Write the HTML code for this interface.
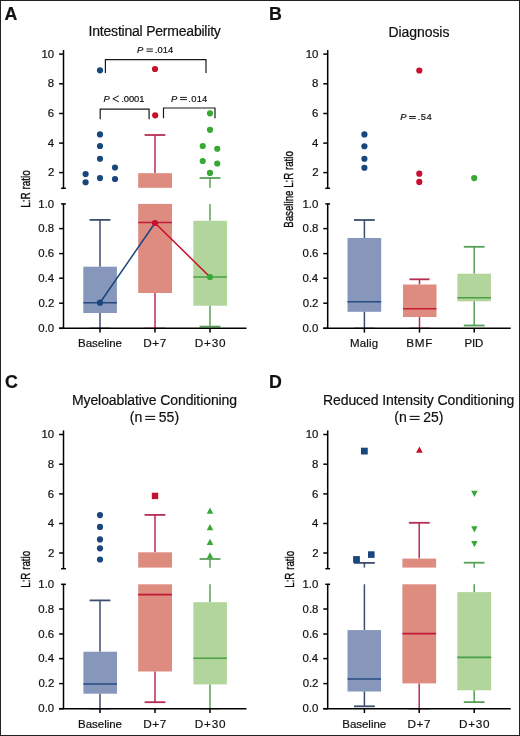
<!DOCTYPE html>
<html><head><meta charset="utf-8"><style>
html,body{margin:0;padding:0;background:#fff;}
body{width:520px;height:736px;overflow:hidden;font-family:"Liberation Sans", sans-serif;}
svg{display:block;will-change:transform;}
text{stroke:#111;stroke-width:0.2px;}
</style></head><body>
<svg width="520" height="736" viewBox="0 0 520 736" font-family='"Liberation Sans", sans-serif' fill="#111" style="font-kerning:none">
<rect x="0" y="0" width="520" height="736" fill="#fff"/>
<line x1="100" y1="219.9" x2="100" y2="266.7" stroke="#3d4e6e" stroke-width="1.5"/>
<line x1="89.6" y1="219.9" x2="110.4" y2="219.9" stroke="#3d4e6e" stroke-width="1.8"/>
<rect x="83.3" y="266.7" width="33.6" height="46.3" fill="#8797bb"/>
<line x1="100" y1="313" x2="100" y2="328.3" stroke="#3d4e6e" stroke-width="1.5"/>
<line x1="89.6" y1="328.3" x2="110.4" y2="328.3" stroke="#3d4e6e" stroke-width="1.3"/>
<line x1="83.3" y1="302.7" x2="116.9" y2="302.7" stroke="#254a80" stroke-width="1.6"/>
<circle cx="100" cy="70.3" r="3.1" fill="#1a467f"/>
<circle cx="100" cy="134.4" r="3.1" fill="#1a467f"/>
<circle cx="100" cy="146" r="3.1" fill="#1a467f"/>
<circle cx="100" cy="158.75" r="3.1" fill="#1a467f"/>
<circle cx="115" cy="167.5" r="3.1" fill="#1a467f"/>
<circle cx="85.6" cy="174.1" r="3.1" fill="#1a467f"/>
<circle cx="85.6" cy="182.25" r="3.1" fill="#1a467f"/>
<circle cx="100" cy="178.1" r="3.1" fill="#1a467f"/>
<circle cx="115" cy="179" r="3.1" fill="#1a467f"/>
<line x1="155" y1="135" x2="155" y2="173.2" stroke="#b82c52" stroke-width="1.5"/>
<line x1="144.6" y1="135" x2="165.4" y2="135" stroke="#b82c52" stroke-width="1.8"/>
<rect x="138.2" y="173.2" width="33.8" height="14.6" fill="#de8b80"/>
<rect x="138.2" y="203.9" width="33.8" height="89.1" fill="#de8b80"/>
<line x1="155" y1="293" x2="155" y2="328.3" stroke="#b82c52" stroke-width="1.5"/>
<line x1="144.6" y1="328.3" x2="165.4" y2="328.3" stroke="#b82c52" stroke-width="1.3"/>
<line x1="138.2" y1="222.5" x2="172" y2="222.5" stroke="#c21a35" stroke-width="1.6"/>
<circle cx="155" cy="69" r="3.1" fill="#c8102e"/>
<circle cx="155.2" cy="115.3" r="3.1" fill="#c8102e"/>
<line x1="210" y1="178" x2="210" y2="187.8" stroke="#58a058" stroke-width="1.5"/>
<line x1="199.6" y1="178" x2="220.4" y2="178" stroke="#58a058" stroke-width="1.8"/>
<line x1="210" y1="203.9" x2="210" y2="220.8" stroke="#58a058" stroke-width="1.5"/>
<rect x="193.3" y="220.8" width="33.7" height="84.9" fill="#b1d59a"/>
<line x1="210" y1="305.7" x2="210" y2="326.6" stroke="#58a058" stroke-width="1.5"/>
<line x1="199.6" y1="326.6" x2="220.4" y2="326.6" stroke="#58a058" stroke-width="1.8"/>
<line x1="193.3" y1="277" x2="227" y2="277" stroke="#4aa048" stroke-width="1.6"/>
<circle cx="210" cy="113.3" r="3.1" fill="#39a935"/>
<circle cx="210" cy="129.8" r="3.1" fill="#39a935"/>
<circle cx="202.75" cy="146" r="3.1" fill="#39a935"/>
<circle cx="217.25" cy="148.75" r="3.1" fill="#39a935"/>
<circle cx="202.75" cy="161" r="3.1" fill="#39a935"/>
<circle cx="217.25" cy="163.5" r="3.1" fill="#39a935"/>
<circle cx="210" cy="172.9" r="3.1" fill="#39a935"/>
<line x1="100" y1="302.7" x2="155" y2="223" stroke="#1a467f" stroke-width="1.5"/>
<line x1="155" y1="223" x2="210" y2="277" stroke="#c8102e" stroke-width="1.5"/>
<circle cx="100" cy="302.7" r="3.1" fill="#1a467f"/>
<circle cx="155" cy="223" r="3.1" fill="#c8102e"/>
<circle cx="210" cy="277" r="3.1" fill="#39a935"/>
<polyline points="105.4,73.1 105.4,59.6 206,59.6 206,73.1" fill="none" stroke="#1a1a1a" stroke-width="1.2"/>
<polyline points="100.2,119.2 100.2,109.1 149.1,109.1 149.1,119.2" fill="none" stroke="#1a1a1a" stroke-width="1.2"/>
<polyline points="163.5,118.3 163.5,108 215,108 215,118.3" fill="none" stroke="#1a1a1a" stroke-width="1.2"/>
<text x="137.11" y="52.5" font-size="9.4" font-style="italic" >P</text>
<line x1="146.5" y1="49" x2="152.9" y2="49" stroke="#111" stroke-width="0.95"/>
<line x1="146.5" y1="51.3" x2="152.9" y2="51.3" stroke="#111" stroke-width="0.95"/>
<text x="154.84" y="52.5" font-size="9.4" letter-spacing="0.080" >.014</text>
<text x="103.51" y="102.1" font-size="9.4" font-style="italic" >P</text>
<polyline points="118.8,95.8 112.8,98.8 118.8,101.8" fill="none" stroke="#111" stroke-width="0.95" stroke-linejoin="miter"/>
<text x="121.34" y="102.1" font-size="9.4" letter-spacing="-0.101" >.0001</text>
<text x="171.11" y="101.5" font-size="9.4" font-style="italic" >P</text>
<line x1="180.1" y1="97.4" x2="186.9" y2="97.4" stroke="#111" stroke-width="0.95"/>
<line x1="180.1" y1="99.6" x2="186.9" y2="99.6" stroke="#111" stroke-width="0.95"/>
<text x="188.34" y="101.5" font-size="9.4" letter-spacing="0.246" >.014</text>
<line x1="364.4" y1="220" x2="364.4" y2="238" stroke="#3d4e6e" stroke-width="1.5"/>
<line x1="354" y1="220" x2="374.8" y2="220" stroke="#3d4e6e" stroke-width="1.8"/>
<rect x="347.5" y="238" width="33.7" height="73.8" fill="#8797bb"/>
<line x1="364.4" y1="311.8" x2="364.4" y2="328.3" stroke="#3d4e6e" stroke-width="1.5"/>
<line x1="354" y1="328.3" x2="374.8" y2="328.3" stroke="#3d4e6e" stroke-width="1.3"/>
<line x1="347.5" y1="301.8" x2="381.2" y2="301.8" stroke="#254a80" stroke-width="1.6"/>
<circle cx="364.4" cy="134.4" r="3.1" fill="#1a467f"/>
<circle cx="364.4" cy="146.25" r="3.1" fill="#1a467f"/>
<circle cx="364.4" cy="158.75" r="3.1" fill="#1a467f"/>
<circle cx="364.4" cy="167.75" r="3.1" fill="#1a467f"/>
<line x1="419.5" y1="279.3" x2="419.5" y2="284.5" stroke="#b82c52" stroke-width="1.5"/>
<line x1="409.5" y1="279.3" x2="429.5" y2="279.3" stroke="#b82c52" stroke-width="1.8"/>
<rect x="403" y="284.5" width="33.5" height="32.5" fill="#de8b80"/>
<line x1="419.5" y1="317" x2="419.5" y2="328.3" stroke="#b82c52" stroke-width="1.5"/>
<line x1="409.1" y1="328.3" x2="429.9" y2="328.3" stroke="#b82c52" stroke-width="1.3"/>
<line x1="403" y1="308.8" x2="436.5" y2="308.8" stroke="#c21a35" stroke-width="1.6"/>
<circle cx="419.3" cy="70.5" r="3.1" fill="#c8102e"/>
<circle cx="419.3" cy="173.7" r="3.1" fill="#c8102e"/>
<circle cx="419.3" cy="181.9" r="3.1" fill="#c8102e"/>
<line x1="474.2" y1="246.8" x2="474.2" y2="273.7" stroke="#58a058" stroke-width="1.5"/>
<line x1="463.8" y1="246.8" x2="484.6" y2="246.8" stroke="#58a058" stroke-width="1.8"/>
<rect x="457.4" y="273.7" width="33.5" height="27.6" fill="#b1d59a"/>
<line x1="474.2" y1="301.3" x2="474.2" y2="325.5" stroke="#58a058" stroke-width="1.5"/>
<line x1="463.8" y1="325.5" x2="484.6" y2="325.5" stroke="#58a058" stroke-width="1.8"/>
<line x1="457.4" y1="297.8" x2="490.9" y2="297.8" stroke="#4aa048" stroke-width="1.6"/>
<circle cx="474.2" cy="178.1" r="3.1" fill="#39a935"/>
<text x="400.31" y="120" font-size="9.4" font-style="italic" >P</text>
<line x1="409.1" y1="116.5" x2="415.8" y2="116.5" stroke="#111" stroke-width="0.95"/>
<line x1="409.1" y1="118.4" x2="415.8" y2="118.4" stroke="#111" stroke-width="0.95"/>
<text x="417.84" y="120" font-size="9.4" letter-spacing="0.383" >.54</text>
<line x1="100" y1="600.4" x2="100" y2="651.7" stroke="#3d4e6e" stroke-width="1.5"/>
<line x1="89.6" y1="600.4" x2="110.4" y2="600.4" stroke="#3d4e6e" stroke-width="1.8"/>
<rect x="83.4" y="651.7" width="33.6" height="42" fill="#8797bb"/>
<line x1="100" y1="693.7" x2="100" y2="708.7" stroke="#3d4e6e" stroke-width="1.5"/>
<line x1="89.6" y1="708.7" x2="110.4" y2="708.7" stroke="#3d4e6e" stroke-width="1.3"/>
<line x1="83.4" y1="684" x2="117" y2="684" stroke="#254a80" stroke-width="1.6"/>
<circle cx="100" cy="515.05" r="3.1" fill="#1a467f"/>
<circle cx="100" cy="526.9" r="3.1" fill="#1a467f"/>
<circle cx="100" cy="539.4" r="3.1" fill="#1a467f"/>
<circle cx="100" cy="548.3" r="3.1" fill="#1a467f"/>
<circle cx="100" cy="559.5" r="3.1" fill="#1a467f"/>
<line x1="155" y1="514.9" x2="155" y2="552.3" stroke="#b82c52" stroke-width="1.5"/>
<line x1="144.6" y1="514.9" x2="165.4" y2="514.9" stroke="#b82c52" stroke-width="1.8"/>
<rect x="138.2" y="552.3" width="33.8" height="15.3" fill="#de8b80"/>
<rect x="138.2" y="584.3" width="33.8" height="87.2" fill="#de8b80"/>
<line x1="155" y1="671.5" x2="155" y2="702.2" stroke="#b82c52" stroke-width="1.5"/>
<line x1="144.6" y1="702.2" x2="165.4" y2="702.2" stroke="#b82c52" stroke-width="1.8"/>
<line x1="138.2" y1="594.6" x2="172" y2="594.6" stroke="#c21a35" stroke-width="1.6"/>
<rect x="151.8" y="492.7" width="6.4" height="6.4" fill="#c8102e"/>
<polygon points="210,507.55 213.3,513.85 206.7,513.85" fill="#39a935"/>
<polygon points="210,524.05 213.3,530.35 206.7,530.35" fill="#39a935"/>
<polygon points="210,538.75 213.3,545.05 206.7,545.05" fill="#39a935"/>
<polygon points="210,552.25 213.3,558.55 206.7,558.55" fill="#39a935"/>
<line x1="210" y1="559" x2="210" y2="567.8" stroke="#58a058" stroke-width="1.5"/>
<line x1="199.6" y1="559" x2="220.4" y2="559" stroke="#58a058" stroke-width="1.8"/>
<line x1="210" y1="584.3" x2="210" y2="602.2" stroke="#58a058" stroke-width="1.5"/>
<rect x="193.4" y="602.2" width="33.5" height="82.2" fill="#b1d59a"/>
<line x1="210" y1="684.4" x2="210" y2="708.7" stroke="#58a058" stroke-width="1.5"/>
<line x1="199.6" y1="708.7" x2="220.4" y2="708.7" stroke="#58a058" stroke-width="1.3"/>
<line x1="193.4" y1="658.2" x2="226.9" y2="658.2" stroke="#4aa048" stroke-width="1.6"/>
<line x1="364.4" y1="562.9" x2="364.4" y2="567.6" stroke="#3d4e6e" stroke-width="1.5"/>
<line x1="354" y1="562.9" x2="374.8" y2="562.9" stroke="#3d4e6e" stroke-width="1.8"/>
<line x1="364.4" y1="584.3" x2="364.4" y2="630.1" stroke="#3d4e6e" stroke-width="1.5"/>
<rect x="347.5" y="630.1" width="33.5" height="61.4" fill="#8797bb"/>
<line x1="364.4" y1="691.5" x2="364.4" y2="706.3" stroke="#3d4e6e" stroke-width="1.5"/>
<line x1="354" y1="706.3" x2="374.8" y2="706.3" stroke="#3d4e6e" stroke-width="1.8"/>
<line x1="347.5" y1="679" x2="381" y2="679" stroke="#254a80" stroke-width="1.6"/>
<rect x="360.95" y="447.7" width="6.8" height="6.8" fill="#1a467f"/>
<rect x="353.1" y="556.1" width="6.8" height="6.8" fill="#1a467f"/>
<rect x="368" y="551.3" width="6.6" height="6.6" fill="#1a467f"/>
<line x1="419.2" y1="522.8" x2="419.2" y2="558.6" stroke="#b82c52" stroke-width="1.5"/>
<line x1="408.8" y1="522.8" x2="429.6" y2="522.8" stroke="#b82c52" stroke-width="1.8"/>
<rect x="402.4" y="558.6" width="33.7" height="9" fill="#de8b80"/>
<rect x="402.4" y="584.3" width="33.7" height="99.1" fill="#de8b80"/>
<line x1="419.2" y1="683.4" x2="419.2" y2="708.7" stroke="#b82c52" stroke-width="1.5"/>
<line x1="408.8" y1="708.7" x2="429.6" y2="708.7" stroke="#b82c52" stroke-width="1.3"/>
<line x1="402.4" y1="633.6" x2="436.1" y2="633.6" stroke="#c21a35" stroke-width="1.6"/>
<polygon points="419.4,446.5 422.75,452.7 416.05,452.7" fill="#c8102e"/>
<polygon points="474.4,496.95 477.6,490.65 471.2,490.65" fill="#39a935"/>
<polygon points="474.4,532.5 477.6,526.2 471.2,526.2" fill="#39a935"/>
<polygon points="474.4,547.3 477.6,541 471.2,541" fill="#39a935"/>
<line x1="474.2" y1="562.7" x2="474.2" y2="567.8" stroke="#58a058" stroke-width="1.5"/>
<line x1="463.8" y1="562.7" x2="484.6" y2="562.7" stroke="#58a058" stroke-width="1.8"/>
<line x1="474.2" y1="584.3" x2="474.2" y2="592.1" stroke="#58a058" stroke-width="1.5"/>
<rect x="457.3" y="592.1" width="33.9" height="98.2" fill="#b1d59a"/>
<line x1="474.2" y1="690.3" x2="474.2" y2="702.1" stroke="#58a058" stroke-width="1.5"/>
<line x1="463.8" y1="702.1" x2="484.6" y2="702.1" stroke="#58a058" stroke-width="1.8"/>
<line x1="457.3" y1="657.4" x2="491.2" y2="657.4" stroke="#4aa048" stroke-width="1.6"/>
<line x1="63.5" y1="50" x2="63.5" y2="188.3" stroke="#000" stroke-width="1.5"/>
<line x1="61.1" y1="188.3" x2="65.9" y2="188.3" stroke="#000" stroke-width="1.5"/>
<line x1="59.1" y1="54.1" x2="63.5" y2="54.1" stroke="#000" stroke-width="1.5"/>
<text x="41.47" y="57.75" font-size="11.4" >10</text>
<line x1="59.1" y1="83.8" x2="63.5" y2="83.8" stroke="#000" stroke-width="1.5"/>
<text x="47.86" y="87.45" font-size="11.4" >8</text>
<line x1="59.1" y1="113.5" x2="63.5" y2="113.5" stroke="#000" stroke-width="1.5"/>
<text x="47.86" y="117.15" font-size="11.4" >6</text>
<line x1="59.1" y1="143.1" x2="63.5" y2="143.1" stroke="#000" stroke-width="1.5"/>
<text x="47.69" y="146.75" font-size="11.4" >4</text>
<line x1="59.1" y1="172.6" x2="63.5" y2="172.6" stroke="#000" stroke-width="1.5"/>
<text x="47.93" y="176.25" font-size="11.4" >2</text>
<line x1="63.5" y1="203.9" x2="63.5" y2="328.3" stroke="#000" stroke-width="1.5"/>
<line x1="61.1" y1="203.9" x2="65.9" y2="203.9" stroke="#000" stroke-width="1.5"/>
<text x="38.3" y="207.55" font-size="11.4" >1.0</text>
<line x1="59.1" y1="228.6" x2="63.5" y2="228.6" stroke="#000" stroke-width="1.5"/>
<text x="38.35" y="232.25" font-size="11.4" >0.8</text>
<line x1="59.1" y1="253.6" x2="63.5" y2="253.6" stroke="#000" stroke-width="1.5"/>
<text x="38.35" y="257.25" font-size="11.4" >0.6</text>
<line x1="59.1" y1="278.2" x2="63.5" y2="278.2" stroke="#000" stroke-width="1.5"/>
<text x="38.19" y="281.85" font-size="11.4" >0.4</text>
<line x1="59.1" y1="303.2" x2="63.5" y2="303.2" stroke="#000" stroke-width="1.5"/>
<text x="38.43" y="306.85" font-size="11.4" >0.2</text>
<line x1="59.1" y1="328.3" x2="63.5" y2="328.3" stroke="#000" stroke-width="1.5"/>
<text x="38.3" y="331.95" font-size="11.4" >0.0</text>
<line x1="59.1" y1="328.3" x2="246.5" y2="328.3" stroke="#000" stroke-width="1.5"/>
<line x1="100" y1="328.3" x2="100" y2="332.6" stroke="#000" stroke-width="1.5"/>
<text x="78.06" y="347.3" font-size="11.5" letter-spacing="-0.023" >Baseline</text>
<line x1="155" y1="328.3" x2="155" y2="332.6" stroke="#000" stroke-width="1.5"/>
<text x="143.24" y="347.3" font-size="11.75" letter-spacing="0.636" >D+7</text>
<line x1="210" y1="328.3" x2="210" y2="332.6" stroke="#000" stroke-width="1.5"/>
<text x="194.84" y="347.3" font-size="11.75" letter-spacing="0.735" >D+30</text>
<line x1="327.7" y1="50" x2="327.7" y2="188.3" stroke="#000" stroke-width="1.5"/>
<line x1="325.3" y1="188.3" x2="330.1" y2="188.3" stroke="#000" stroke-width="1.5"/>
<line x1="323.3" y1="54.1" x2="327.7" y2="54.1" stroke="#000" stroke-width="1.5"/>
<text x="305.67" y="57.75" font-size="11.4" >10</text>
<line x1="323.3" y1="83.8" x2="327.7" y2="83.8" stroke="#000" stroke-width="1.5"/>
<text x="312.06" y="87.45" font-size="11.4" >8</text>
<line x1="323.3" y1="113.5" x2="327.7" y2="113.5" stroke="#000" stroke-width="1.5"/>
<text x="312.06" y="117.15" font-size="11.4" >6</text>
<line x1="323.3" y1="143.1" x2="327.7" y2="143.1" stroke="#000" stroke-width="1.5"/>
<text x="311.89" y="146.75" font-size="11.4" >4</text>
<line x1="323.3" y1="172.6" x2="327.7" y2="172.6" stroke="#000" stroke-width="1.5"/>
<text x="312.13" y="176.25" font-size="11.4" >2</text>
<line x1="327.7" y1="203.9" x2="327.7" y2="328.3" stroke="#000" stroke-width="1.5"/>
<line x1="325.3" y1="203.9" x2="330.1" y2="203.9" stroke="#000" stroke-width="1.5"/>
<text x="302.5" y="207.55" font-size="11.4" >1.0</text>
<line x1="323.3" y1="228.6" x2="327.7" y2="228.6" stroke="#000" stroke-width="1.5"/>
<text x="302.55" y="232.25" font-size="11.4" >0.8</text>
<line x1="323.3" y1="253.6" x2="327.7" y2="253.6" stroke="#000" stroke-width="1.5"/>
<text x="302.55" y="257.25" font-size="11.4" >0.6</text>
<line x1="323.3" y1="278.2" x2="327.7" y2="278.2" stroke="#000" stroke-width="1.5"/>
<text x="302.39" y="281.85" font-size="11.4" >0.4</text>
<line x1="323.3" y1="303.2" x2="327.7" y2="303.2" stroke="#000" stroke-width="1.5"/>
<text x="302.63" y="306.85" font-size="11.4" >0.2</text>
<line x1="323.3" y1="328.3" x2="327.7" y2="328.3" stroke="#000" stroke-width="1.5"/>
<text x="302.5" y="331.95" font-size="11.4" >0.0</text>
<line x1="323.3" y1="328.3" x2="510.7" y2="328.3" stroke="#000" stroke-width="1.5"/>
<line x1="364.4" y1="328.3" x2="364.4" y2="332.6" stroke="#000" stroke-width="1.5"/>
<text x="350.06" y="347.3" font-size="11.5" letter-spacing="0.176" >Malig</text>
<line x1="419.5" y1="328.3" x2="419.5" y2="332.6" stroke="#000" stroke-width="1.5"/>
<text x="406.34" y="347.3" font-size="11.75" letter-spacing="0.666" >BMF</text>
<line x1="474.2" y1="328.3" x2="474.2" y2="332.6" stroke="#000" stroke-width="1.5"/>
<text x="464.46" y="347.3" font-size="11.5" letter-spacing="-0.188" >PID</text>
<line x1="63.5" y1="430.4" x2="63.5" y2="568.7" stroke="#000" stroke-width="1.5"/>
<line x1="61.1" y1="568.7" x2="65.9" y2="568.7" stroke="#000" stroke-width="1.5"/>
<line x1="59.1" y1="434.5" x2="63.5" y2="434.5" stroke="#000" stroke-width="1.5"/>
<text x="41.47" y="438.15" font-size="11.4" >10</text>
<line x1="59.1" y1="464.2" x2="63.5" y2="464.2" stroke="#000" stroke-width="1.5"/>
<text x="47.86" y="467.85" font-size="11.4" >8</text>
<line x1="59.1" y1="493.9" x2="63.5" y2="493.9" stroke="#000" stroke-width="1.5"/>
<text x="47.86" y="497.55" font-size="11.4" >6</text>
<line x1="59.1" y1="523.5" x2="63.5" y2="523.5" stroke="#000" stroke-width="1.5"/>
<text x="47.69" y="527.15" font-size="11.4" >4</text>
<line x1="59.1" y1="553" x2="63.5" y2="553" stroke="#000" stroke-width="1.5"/>
<text x="47.93" y="556.65" font-size="11.4" >2</text>
<line x1="63.5" y1="584.3" x2="63.5" y2="708.7" stroke="#000" stroke-width="1.5"/>
<line x1="61.1" y1="584.3" x2="65.9" y2="584.3" stroke="#000" stroke-width="1.5"/>
<text x="38.3" y="587.95" font-size="11.4" >1.0</text>
<line x1="59.1" y1="609" x2="63.5" y2="609" stroke="#000" stroke-width="1.5"/>
<text x="38.35" y="612.65" font-size="11.4" >0.8</text>
<line x1="59.1" y1="634" x2="63.5" y2="634" stroke="#000" stroke-width="1.5"/>
<text x="38.35" y="637.65" font-size="11.4" >0.6</text>
<line x1="59.1" y1="658.6" x2="63.5" y2="658.6" stroke="#000" stroke-width="1.5"/>
<text x="38.19" y="662.25" font-size="11.4" >0.4</text>
<line x1="59.1" y1="683.6" x2="63.5" y2="683.6" stroke="#000" stroke-width="1.5"/>
<text x="38.43" y="687.25" font-size="11.4" >0.2</text>
<line x1="59.1" y1="708.7" x2="63.5" y2="708.7" stroke="#000" stroke-width="1.5"/>
<text x="38.3" y="712.35" font-size="11.4" >0.0</text>
<line x1="59.1" y1="708.7" x2="246.5" y2="708.7" stroke="#000" stroke-width="1.5"/>
<line x1="100" y1="708.7" x2="100" y2="713" stroke="#000" stroke-width="1.5"/>
<text x="78.06" y="727.7" font-size="11.5" letter-spacing="-0.023" >Baseline</text>
<line x1="155" y1="708.7" x2="155" y2="713" stroke="#000" stroke-width="1.5"/>
<text x="143.24" y="727.7" font-size="11.75" letter-spacing="0.636" >D+7</text>
<line x1="210" y1="708.7" x2="210" y2="713" stroke="#000" stroke-width="1.5"/>
<text x="194.84" y="727.7" font-size="11.75" letter-spacing="0.735" >D+30</text>
<line x1="327.7" y1="430.4" x2="327.7" y2="568.7" stroke="#000" stroke-width="1.5"/>
<line x1="325.3" y1="568.7" x2="330.1" y2="568.7" stroke="#000" stroke-width="1.5"/>
<line x1="323.3" y1="434.5" x2="327.7" y2="434.5" stroke="#000" stroke-width="1.5"/>
<text x="305.67" y="438.15" font-size="11.4" >10</text>
<line x1="323.3" y1="464.2" x2="327.7" y2="464.2" stroke="#000" stroke-width="1.5"/>
<text x="312.06" y="467.85" font-size="11.4" >8</text>
<line x1="323.3" y1="493.9" x2="327.7" y2="493.9" stroke="#000" stroke-width="1.5"/>
<text x="312.06" y="497.55" font-size="11.4" >6</text>
<line x1="323.3" y1="523.5" x2="327.7" y2="523.5" stroke="#000" stroke-width="1.5"/>
<text x="311.89" y="527.15" font-size="11.4" >4</text>
<line x1="323.3" y1="553" x2="327.7" y2="553" stroke="#000" stroke-width="1.5"/>
<text x="312.13" y="556.65" font-size="11.4" >2</text>
<line x1="327.7" y1="584.3" x2="327.7" y2="708.7" stroke="#000" stroke-width="1.5"/>
<line x1="325.3" y1="584.3" x2="330.1" y2="584.3" stroke="#000" stroke-width="1.5"/>
<text x="302.5" y="587.95" font-size="11.4" >1.0</text>
<line x1="323.3" y1="609" x2="327.7" y2="609" stroke="#000" stroke-width="1.5"/>
<text x="302.55" y="612.65" font-size="11.4" >0.8</text>
<line x1="323.3" y1="634" x2="327.7" y2="634" stroke="#000" stroke-width="1.5"/>
<text x="302.55" y="637.65" font-size="11.4" >0.6</text>
<line x1="323.3" y1="658.6" x2="327.7" y2="658.6" stroke="#000" stroke-width="1.5"/>
<text x="302.39" y="662.25" font-size="11.4" >0.4</text>
<line x1="323.3" y1="683.6" x2="327.7" y2="683.6" stroke="#000" stroke-width="1.5"/>
<text x="302.63" y="687.25" font-size="11.4" >0.2</text>
<line x1="323.3" y1="708.7" x2="327.7" y2="708.7" stroke="#000" stroke-width="1.5"/>
<text x="302.5" y="712.35" font-size="11.4" >0.0</text>
<line x1="323.3" y1="708.7" x2="510.7" y2="708.7" stroke="#000" stroke-width="1.5"/>
<line x1="364.4" y1="708.7" x2="364.4" y2="713" stroke="#000" stroke-width="1.5"/>
<text x="342.26" y="727.7" font-size="11.5" letter-spacing="-0.023" >Baseline</text>
<line x1="419.2" y1="708.7" x2="419.2" y2="713" stroke="#000" stroke-width="1.5"/>
<text x="407.44" y="727.7" font-size="11.75" letter-spacing="0.636" >D+7</text>
<line x1="474.2" y1="708.7" x2="474.2" y2="713" stroke="#000" stroke-width="1.5"/>
<text x="459.04" y="727.7" font-size="11.75" letter-spacing="0.735" >D+30</text>
<text x="4.46" y="19.6" font-size="17.8" font-weight="bold" >A</text>
<text x="268.91" y="19.7" font-size="17.8" font-weight="bold" >B</text>
<text x="5.07" y="388" font-size="17.8" font-weight="bold" >C</text>
<text x="268.91" y="387.6" font-size="17.8" font-weight="bold" >D</text>
<text x="88.61" y="36.4" font-size="14.0" letter-spacing="-0.215" >Intestinal Permeability</text>
<text x="388.55" y="36.5" font-size="14.0" letter-spacing="-0.078" >Diagnosis</text>
<text x="71.95" y="404.7" font-size="14.0" letter-spacing="-0.087" >Myeloablative Conditioning</text>
<text x="322.95" y="404.5" font-size="14.0" letter-spacing="-0.081" >Reduced Intensity Conditioning</text>
<text x="129.83" y="421.9" font-size="14.0" >(n</text>
<line x1="145.2" y1="416.4" x2="155.2" y2="416.4" stroke="#111" stroke-width="1.1"/>
<line x1="145.2" y1="419.4" x2="155.2" y2="419.4" stroke="#111" stroke-width="1.1"/>
<text x="158.83" y="421.9" font-size="14.0" >55)</text>
<text x="394.23" y="421.9" font-size="14.0" >(n</text>
<line x1="409.6" y1="416.4" x2="419.6" y2="416.4" stroke="#111" stroke-width="1.1"/>
<line x1="409.6" y1="419.4" x2="419.6" y2="419.4" stroke="#111" stroke-width="1.1"/>
<text x="423.23" y="421.9" font-size="14.0" >25)</text>
<text transform="translate(29.8,207.82) rotate(-90) scale(0.7432,1)" x="0" y="0" font-size="13.4" font-weight="normal" style="stroke-width:0.4px">L:R ratio</text>
<text transform="translate(293.2,227.8) rotate(-90) scale(0.7199,1)" x="0" y="0" font-size="13.5" font-weight="normal" style="stroke-width:0.4px">Baseline L:R ratio</text>
<text transform="translate(29.8,587.8) rotate(-90) scale(0.7309,1)" x="0" y="0" font-size="13.4" font-weight="normal" style="stroke-width:0.4px">L:R ratio</text>
<text transform="translate(293.8,587.8) rotate(-90) scale(0.7309,1)" x="0" y="0" font-size="13.4" font-weight="normal" style="stroke-width:0.4px">L:R ratio</text>
<rect x="0.5" y="0.5" width="519" height="735" fill="none" stroke="#222" stroke-width="1"/>
</svg>
</body></html>
